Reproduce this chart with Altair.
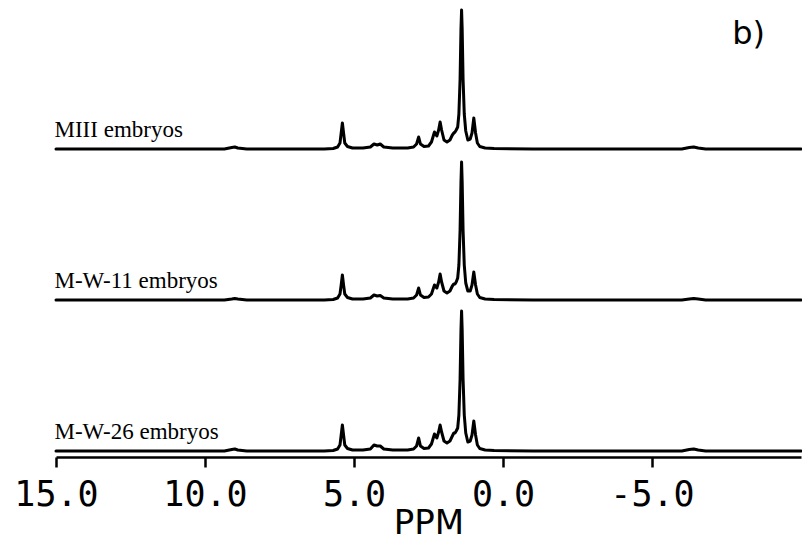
import altair as alt
import pandas as pd

# chemical shift sample points (ppm), shared by the three spectra
ppm = [15.0, 13.0, 9.35, 9.1, 9.0, 8.9, 8.6, 6.0, 5.7, 5.55, 5.47, 5.43, 5.39, 5.35, 5.31,
       5.22, 5.05, 4.7, 4.45, 4.33, 4.22, 4.12, 4.0, 3.7, 3.2, 3.0, 2.9, 2.83, 2.77, 2.65,
       2.5, 2.4, 2.3, 2.22, 2.16, 2.11, 2.06, 1.98, 1.88, 1.78, 1.7, 1.65, 1.61, 1.57, 1.52,
       1.48, 1.44, 1.41, 1.39, 1.37, 1.34, 1.3, 1.25, 1.18, 1.1, 1.04, 0.98, 0.92, 0.86,
       0.78, 0.6, 0.3, -1.0, -6.0, -6.25, -6.4, -6.55, -6.8, -10.0]

# signal intensity (arbitrary units)
miii = [0, 0, 0, 1.5, 2, 1, 0, 0, 0.5, 2, 6, 16, 26, 16, 6,
        2.5, 1, 1, 2, 5, 4, 5, 2, 1, 1, 2, 5, 12, 5, 2.5,
        3, 7, 17, 13, 19, 27, 19, 9, 7, 9, 14, 16, 17, 19, 22,
        35, 70, 120, 139, 120, 70, 35, 18, 9, 10, 16, 31, 16, 6,
        2.5, 1, 0.5, 0, 0, 1.5, 2, 1, 0, 0]
mw11 = [0, 0, 0, 1, 1.5, 1, 0, 0, 0.5, 2, 6, 15, 25, 15, 6,
        2.5, 1, 1, 2, 5, 4, 4.5, 2, 1, 1, 2, 5, 12, 5, 2.5,
        3, 6, 15, 12, 18, 26, 18, 9, 7, 9, 14, 16, 16, 18, 22,
        35, 70, 118, 138, 118, 70, 35, 17, 9, 9, 15, 28, 15, 6,
        2.5, 1, 0.5, 0, 0, 1, 1.5, 1, 0, 0]
mw26 = [0, 0, 0, 1.5, 2, 1, 0, 0, 0.5, 2, 6, 16, 26, 16, 6,
        2.5, 1, 1, 2, 6, 5, 5, 2, 1, 1, 2, 5, 13, 5, 2.5,
        3, 7, 17, 13, 19, 26, 19, 10, 8, 10, 15, 18, 18, 20, 23,
        36, 72, 121, 140, 121, 72, 36, 18, 9, 10, 16, 30, 16, 6,
        2.5, 1, 0.5, 0, 0, 1.5, 2, 1, 0, 0]

trace_names = ["MIII embryos", "M-W-11 embryos", "M-W-26 embryos"]
tick_values = [15, 10, 5, 0, -5]
tick_labels = ["15.0", "10.0", "5.0", "0.0", "-5.0"]

# layout constants (not data)
STACK_BASE = 8
STACK_STEP = 151
LABEL_RISE = 12
LABEL_PPM = 15.05

rows = []
for i, (name, series) in enumerate(zip(trace_names, [miii, mw11, mw26])):
    level = len(trace_names) - 1 - i
    for p, v in zip(ppm, series):
        rows.append({"trace": name, "ppm": p, "intensity": v, "level": level})
df = pd.DataFrame(rows)

labels_df = pd.DataFrame({"trace": trace_names,
                          "level": [len(trace_names) - 1 - i for i in range(len(trace_names))]})

label_expr = " : ".join(
    f"datum.value == {v} ? '{t}'" for v, t in zip(tick_values, tick_labels)
) + " : ''"

x_scale = alt.Scale(domain=[15, -10], nice=False, zero=False)
y_scale = alt.Scale(domain=[2, 451], nice=False, zero=False)

x_axis = alt.Axis(
    values=tick_values, labelExpr=label_expr, grid=False,
    domainColor="black", domainWidth=2.5,
    tickColor="black", tickWidth=2.5, tickSize=10,
    labelFont="DejaVu Sans Mono", labelFontSize=35, labelColor="black",
    labelPadding=10, labelFlush=False, labelOverlap=False,
    titleFont="DejaVu Sans", titleFontSize=34, titleFontWeight="normal",
    titleColor="black", titleBaseline="bottom", titleY=83,
)

lines = alt.Chart(df).transform_calculate(
    shifted=f"datum.intensity + {STACK_BASE} + datum.level * {STACK_STEP}"
).mark_line(color="black", strokeWidth=3, strokeJoin="round", strokeCap="round").encode(
    x=alt.X("ppm:Q", scale=x_scale, axis=x_axis, title="PPM"),
    y=alt.Y("shifted:Q", scale=y_scale, axis=None),
    detail="trace:N",
)

texts = alt.Chart(labels_df).transform_calculate(
    ppm=f"{LABEL_PPM}",
    shifted=f"{STACK_BASE} + datum.level * {STACK_STEP} + {LABEL_RISE}",
).mark_text(align="left", baseline="alphabetic", font="Liberation Serif",
            fontSize=23, color="black").encode(
    x=alt.X("ppm:Q", scale=x_scale, axis=x_axis, title="PPM"),
    y=alt.Y("shifted:Q", scale=y_scale, axis=None),
    text="trace:N",
)

chart = alt.layer(lines, texts).properties(
    width=745, height=449,
    autosize="none",
    background="white",
    padding={"left": 48, "top": 0, "right": 1, "bottom": 84},
    title=alt.TitleParams("b)", anchor="end", orient="top", frame="group",
                          offset=-44, dy=24, dx=-36, baseline="alphabetic",
                          font="DejaVu Sans", fontSize=32, fontWeight="normal",
                          color="black"),
).configure_view(stroke=None)

chart.save("out.html", embed_options={"renderer": "svg", "actions": False})
